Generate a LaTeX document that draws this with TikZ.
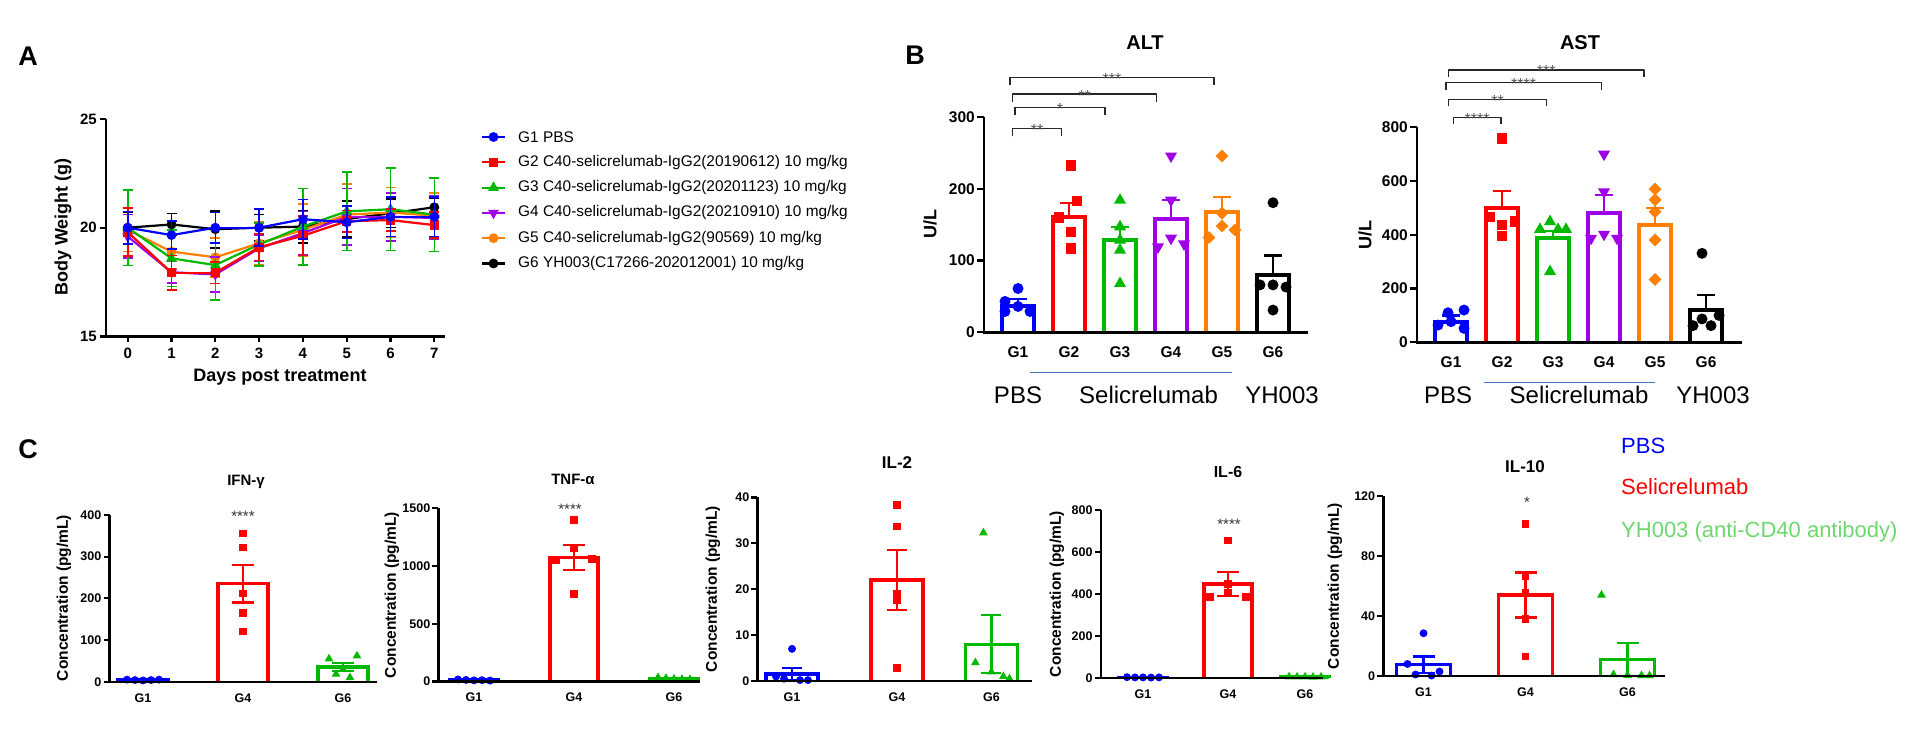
\documentclass[tikz,border=0pt]{standalone}
\usepackage{fontspec}
\setmainfont{Liberation Sans}
\usetikzlibrary{shapes.geometric}
\definecolor{gblue}{RGB}{0,0,255}
\definecolor{gred}{RGB}{255,0,0}
\definecolor{ggreen}{RGB}{0,185,0}
\definecolor{gpurple}{RGB}{160,0,230}
\definecolor{gorange}{RGB}{255,128,0}
\definecolor{lgreen}{RGB}{110,215,110}
\definecolor{lineblue}{RGB}{68,114,196}
\definecolor{stargray}{RGB}{85,85,85}
\begin{document}
\begin{tikzpicture}[>=latex,line join=bevel,x=1bp,y=-1bp,
  axis_line/.style={black,line width=2.4bp,line join=miter},
  ax_tick/.style={black,line width=2.2bp},
  bar_b/.style={draw=#1,line width=4bp,line join=miter},
  bar_c/.style={draw=#1,line width=3.4bp,line join=miter},
  err_line/.style={draw=#1,line width=2.2bp},
  brk/.style={black!85,line width=1.4bp},
  grp_line/.style={lineblue,line width=1.3bp},
  mk_circ/.style={circle,fill=#1,draw=none,inner sep=0pt,minimum size=11bp},
  mk_sq/.style={rectangle,fill=#1,draw=none,inner sep=0pt,minimum size=10.5bp},
  mk_up/.style={regular polygon,regular polygon sides=3,fill=#1,draw=none,inner sep=0pt,minimum size=14bp},
  mk_dn/.style={mk_up=#1,shape border rotate=180},
  mk_dia/.style={diamond,fill=#1,draw=none,inner sep=0pt,minimum size=13bp},
  lab_panel/.style={font=\bfseries\fontsize{27bp}{30bp}\selectfont,inner sep=0pt},
  lab_ax/.style={font=\bfseries\fontsize{18bp}{21bp}\selectfont,inner sep=0pt},
  tick_a/.style={font=\bfseries\fontsize{15bp}{18bp}\selectfont,inner sep=0pt},
  leg_a/.style={font=\fontsize{15.4bp}{18bp}\selectfont,anchor=west,inner sep=0pt},
  title_b/.style={font=\bfseries\fontsize{20bp}{24bp}\selectfont,inner sep=0pt},
  tick_b/.style={font=\bfseries\fontsize{15.5bp}{18bp}\selectfont,inner sep=0pt},
  grp_b/.style={font=\fontsize{24bp}{28bp}\selectfont,inner sep=0pt},
  star_b/.style={font=\fontsize{16bp}{18bp}\selectfont,text=stargray,inner sep=0pt,anchor=base},
  star_c/.style={font=\fontsize{15bp}{18bp}\selectfont,text=black!80,inner sep=0pt,anchor=base},
  title_c/.style={font=\bfseries\fontsize{#1}{#1}\selectfont,inner sep=0pt},
  tick_c/.style={font=\bfseries\fontsize{12.5bp}{15bp}\selectfont,inner sep=0pt},
  ylab_c/.style={font=\bfseries\fontsize{15.5bp}{18bp}\selectfont,inner sep=0pt,rotate=90},
  leg_c/.style={font=\fontsize{22bp}{26bp}\selectfont,anchor=west,inner sep=0pt},
]
\useasboundingbox (0,0) rectangle (1914,740);
\fill[white] (0,0) rectangle (1914,740);
%%
%% A: body weight
\node[lab_panel] (lab_a) at (28,56) {A};
\node[lab_ax,rotate=90] (a_ylab) at (63,227) {Body Weight (g)};
\node[lab_ax] (a_xlab) at (280,377) {Days post treatment};
\begin{scope}[shift={(127.7bp,-662.5bp)},x=43.8bp,y=21.74bp]
\foreach \g/\cc/\m/\pts in {
  6/black/mk_circ/{20.0/0.72,20.15/0.5,19.93/0.85,20.0/0.6,20.05/0.75,20.4/0.84,20.66/0.65,20.94/0.4},
  5/gorange/mk_circ/{19.9/1.0,18.9/0.8,18.64/0.9,19.28/1.0,19.9/1.2,20.6/1.4,20.7/1.15,20.55/1.05},
  4/gpurple/mk_dn/{19.6/1.0,17.95/0.5,17.85/0.8,19.05/0.6,19.75/1.0,20.5/1.3,20.5/1.1,20.45/1.0},
  3/ggreen/mk_up/{20.0/1.73,18.59/1.3,18.28/1.6,19.23/1.0,20.05/1.76,20.75/1.8,20.85/1.9,20.6/1.7},
  2/gred/mk_sq/{19.8/1.1,17.93/0.8,17.93/0.5,19.1/0.6,19.63/0.9,20.3/0.5,20.35/0.5,20.12/0.6},
  1/gblue/mk_circ/{20.0/0.75,19.66/0.65,20.0/0.7,20.0/0.85,20.39/0.9,20.25/0.75,20.5/0.9,20.5/0.9}}
{
  \foreach \w/\e [count=\dd from 0,remember=\w as \pw (initially 0)] in \pts {
    \draw[err_line=\cc,line width=1.6bp] (\dd,\w-\e) -- (\dd,\w+\e)
      (\dd,\w-\e) ++(-5bp,0) -- ++(10bp,0)
      (\dd,\w+\e) ++(-5bp,0) -- ++(10bp,0);
    \ifnum\dd>0 \draw[\cc,line width=2.2bp] (\dd-1,\pw) -- (\dd,\w);\fi
  }
  \foreach \w/\e [count=\dd from 0] in \pts
    \node[\m=\cc,scale=0.9] (a_g\g_d\dd) at (\dd,\w) {};
}
\end{scope}
\draw[axis_line] (105.7,119) -- (105.7,336.4) -- (445,336.4);
\foreach \val/\yy in {25/119,20/227.7,15/336.4} {
  \draw[ax_tick] (99.7,\yy) -- (105.7,\yy);
  \node[tick_a,anchor=east] (a_y\val) at (97,\yy) {\val};
}
\foreach \dd in {0,...,7} {
  \draw[ax_tick] (127.7+43.8*\dd,336.4) -- ++(0,6);
  \node[tick_a] (a_x\dd) at (127.7+43.8*\dd,353) {\dd};
}
% legend
\foreach \g/\cc/\m/\txt [count=\kk from 0] in {
  1/gblue/mk_circ/{G1 PBS},
  2/gred/mk_sq/{G2 C40-selicrelumab-IgG2(20190612) 10 mg/kg},
  3/ggreen/mk_up/{G3 C40-selicrelumab-IgG2(20201123) 10 mg/kg},
  4/gpurple/mk_dn/{G4 C40-selicrelumab-IgG2(20210910) 10 mg/kg},
  5/gorange/mk_circ/{G5 C40-selicrelumab-IgG2(90569) 10 mg/kg},
  6/black/mk_circ/{G6 YH003(C17266-202012001) 10 mg/kg}}
{
  \draw[\cc,line width=2.2bp] (482,137+25.3*\kk) -- (505,137+25.3*\kk);
  \node[\m=\cc,scale=0.9] (leg_m\g) at (493.5,137+25.3*\kk) {};
  \node[leg_a] (leg_t\g) at (518,137+25.3*\kk) {\txt};
}
%%
%% B: ALT
\node[lab_panel] (lab_b) at (915,55) {B};
\node[title_b] (alt_title) at (1145,43) {ALT};
\node[lab_ax,rotate=90] (alt_ylab) at (930,224) {U/L};
\begin{scope}[shift={(984bp,-332.3bp)},x=1bp,y=0.718bp]
\foreach \i/\cc/\m/\mn/\tp/\pts in {
  1/gblue/mk_circ/37/46/{61/0,43/-13,36/0,29/-13,29/12},
  2/gred/mk_sq/161/180/{232/2,183/8,160/-10,140/2,117/2},
  3/ggreen/mk_up/128.5/147/{184/0,147/0,128.5/0,114.6/0,68/0},
  4/gpurple/mk_dn/158/184/{245.5/0,184/0,131/0,119/-13,123/13},
  5/gorange/mk_dia/167/188/{245.5/0,166/0,148/0,142.5/13,132/-13},
  6/black/mk_circ/80/107/{180.5/0,66/-13,66/0,63/13,31/0}}
{
  \pgfmathsetmacro\bx{34+51*(\i-1)}
  \draw[bar_b=\cc] (\bx-16,0) |- (\bx+16,\mn) -- (\bx+16,0);
  \draw[err_line=\cc] (\bx,\mn) -- (\bx,\tp) ++(-9bp,0) -- ++(18bp,0);
  \foreach \val/\off [count=\kk] in \pts
    \node[\m=\cc] (alt_g\i_p\kk) at (\bx+\off,\val) {};
  \node[tick_b] (alt_x\i) at ([yshift=-20bp]\bx,0) {G\i};
}
\draw[axis_line] (0,300) -- (0,0) -- (324,0);
\foreach \val in {0,100,200,300} {
  \draw[ax_tick] (0,\val) -- ++(-7bp,0);
  \node[tick_b,anchor=east] (alt_y\val) at ([xshift=-9bp]0,\val) {\val};
}
\end{scope}
\foreach \lx/\rx/\yy/\s [count=\kk] in {1012.7/1061.7/128.3/{**},1015/1105/107.3/{*},1012.7/1156.7/94/{**},1010/1214/77.3/{***}} {
  \draw[brk] (\lx,\yy+8) |- (\rx,\yy) -- (\rx,\yy+8);
  \node[star_b] (alt_s\kk) at ({(\lx+\rx)/2},\yy+7) {\s};
}
\draw[grp_line] (1030,372.7) -- (1232,372.7);
\node[grp_b] (alt_pbs) at (1018,395) {PBS};
\node[grp_b] (alt_seli) at (1148.5,395) {Selicrelumab};
\node[grp_b] (alt_yh) at (1282,395) {YH003};
%%
%% B: AST
\node[title_b] (ast_title) at (1580,43) {AST};
\node[lab_ax,rotate=90] (ast_ylab) at (1365,235) {U/L};
\begin{scope}[shift={(1417bp,-342.3bp)},x=1bp,y=0.26875bp]
\foreach \i/\cc/\m/\mn/\tp/\pts in {
  1/gblue/mk_circ/77/100/{120/13,110/-3,77/0,64/-13,52/13},
  2/gred/mk_sq/499/564/{759/0,467/-12,449/13,437/0,396/0},
  3/ggreen/mk_up/387/415/{449/-3,420/-13,420/5,420/13,263/-3},
  4/gpurple/mk_dn/480/548/{700/0,560/0,402/0,387/-13,387/13},
  5/gorange/mk_dia/436.5/499/{570/0,530/0,486/0,381/0,234/0},
  6/black/mk_circ/120/176/{331/-4,100/13,87/-4,62/-13,62/5}}
{
  \pgfmathsetmacro\bx{34+51*(\i-1)}
  \draw[bar_b=\cc] (\bx-16,0) |- (\bx+16,\mn) -- (\bx+16,0);
  \draw[err_line=\cc] (\bx,\mn) -- (\bx,\tp) ++(-9bp,0) -- ++(18bp,0);
  \foreach \val/\off [count=\kk] in \pts
    \node[\m=\cc] (ast_g\i_p\kk) at (\bx+\off,\val) {};
  \node[tick_b] (ast_x\i) at ([yshift=-20bp]\bx,0) {G\i};
}
\draw[axis_line] (0,800) -- (0,0) -- (325,0);
\foreach \val in {0,200,400,600,800} {
  \draw[ax_tick] (0,\val) -- ++(-7bp,0);
  \node[tick_b,anchor=east] (ast_y\val) at ([xshift=-9bp]0,\val) {\val};
}
\end{scope}
\foreach \lx/\rx/\yy/\s [count=\kk] in {1453.3/1501/117.3/{****},1448.3/1546.7/99.3/{**},1446/1601.3/82.7/{****},1448.3/1644/70/{***}} {
  \draw[brk] (\lx,\yy+7) |- (\rx,\yy) -- (\rx,\yy+7);
  \node[star_b] (ast_s\kk) at ({(\lx+\rx)/2},\yy+7) {\s};
}
\draw[grp_line] (1484,382.3) -- (1655,382.3);
\node[grp_b] (ast_pbs) at (1448,395) {PBS};
\node[grp_b] (ast_seli) at (1579,395) {Selicrelumab};
\node[grp_b] (ast_yh) at (1713,395) {YH003};
%%
%% C: cytokines
\node[lab_panel] (lab_c) at (28,449) {C};
% IFN-g
\node[title_c=15bp] (ifn_title) at (246,482) {IFN-γ};
\node[star_c] (ifn_star) at (243,521) {****};
\node[ylab_c] (ifn_ylab) at (64,598) {Concentration (pg/mL)};
\begin{scope}[shift={(109.5bp,-681.7bp)},x=1bp,y=0.4167bp]
\foreach \i/\bx/\cc/\m/\mn/\se/\pts in {
  1/33.5/gblue/mk_circ/4/1/{5/-16,4/-8,3/0,4/8,5/16},
  4/133.5/gred/mk_sq/235/45/{356/0,322/0,212/0,165/0,120/0},
  6/233.5/ggreen/mk_up/35/10/{62/14,55/-14,30/0,18/-7,10/7}}
{
  \draw[bar_c=\cc] (\bx-25,0) |- (\bx+25,\mn) -- (\bx+25,0);
  \draw[err_line=\cc] (\bx,\mn-\se) -- (\bx,\mn+\se)
    (\bx,\mn-\se) ++(-11bp,0) -- ++(22bp,0)
    (\bx,\mn+\se) ++(-11bp,0) -- ++(22bp,0);
  \foreach \val/\off [count=\kk] in \pts
    \node[\m=\cc,scale=0.72] (ifn_g\i_p\kk) at (\bx+\off,\val) {};
  \node[tick_c] (ifn_x\i) at ([yshift=-16bp]\bx,0) {G\i};
}
\draw[axis_line] (0,400) -- (0,0) -- (267,0);
\foreach \val in {0,100,...,400} {
  \draw[ax_tick] (0,\val) -- ++(-6bp,0);
  \node[tick_c,anchor=east] (ifn_y\val) at ([xshift=-8bp]0,\val) {\val};
}
\end{scope}
% TNF-a
\node[title_c=15bp] (tnf_title) at (573,479) {TNF-α};
\node[star_c] (tnf_star) at (570,514) {****};
\node[ylab_c] (tnf_ylab) at (392,595) {Concentration (pg/mL)};
\begin{scope}[shift={(438.4bp,-681.5bp)},x=1bp,y=0.1155bp]
\foreach \i/\bx/\cc/\m/\mn/\se/\pts in {
  1/35.6/gblue/mk_circ/12/3/{18/-16,14/-8,10/0,12/8,8/16},
  4/135.6/gred/mk_sq/1075/110/{1400/0,1155/0,1060/18,1048/-18,760/0},
  6/235.6/ggreen/mk_up/25/5/{35/-16,28/-8,22/0,20/8,18/16}}
{
  \draw[bar_c=\cc] (\bx-24,0) |- (\bx+24,\mn) -- (\bx+24,0);
  \draw[err_line=\cc] (\bx,\mn-\se) -- (\bx,\mn+\se)
    (\bx,\mn-\se) ++(-11bp,0) -- ++(22bp,0)
    (\bx,\mn+\se) ++(-11bp,0) -- ++(22bp,0);
  \foreach \val/\off [count=\kk] in \pts
    \node[\m=\cc,scale=0.72] (tnf_g\i_p\kk) at (\bx+\off,\val) {};
  \node[tick_c] (tnf_x\i) at ([yshift=-16bp]\bx,0) {G\i};
}
\draw[axis_line] (0,1500) -- (0,0) -- (262,0);
\foreach \val in {0,500,1000,1500} {
  \draw[ax_tick] (0,\val) -- ++(-6bp,0);
  \node[tick_c,anchor=east] (tnf_y\val) at ([xshift=-8bp]0,\val) {\val};
}
\end{scope}
% IL-2
\node[title_c=17bp] (il2_title) at (897,463) {IL-2};
\node[ylab_c] (il2_ylab) at (713,589) {Concentration (pg/mL)};
\begin{scope}[shift={(757.4bp,-681bp)},x=1bp,y=4.59bp]
\foreach \i/\bx/\cc/\m/\mn/\se/\pts in {
  1/34.6/gblue/mk_circ/1.5/1.3/{7/0,1/-16,0.5/-8,0.2/8,0.2/16},
  4/139.6/gred/mk_sq/22/6.5/{38.3/0,33.7/0,19.1/0,17.5/0,2.8/0},
  6/234/ggreen/mk_up/8/6.3/{32.3/-8,4/-16,2/0,1/12,0.5/18}}
{
  \draw[bar_c=\cc] (\bx-26,0) |- (\bx+26,\mn) -- (\bx+26,0);
  \draw[err_line=\cc] (\bx,\mn-\se) -- (\bx,\mn+\se)
    (\bx,\mn-\se) ++(-10bp,0) -- ++(20bp,0)
    (\bx,\mn+\se) ++(-10bp,0) -- ++(20bp,0);
  \foreach \val/\off [count=\kk] in \pts
    \node[\m=\cc,scale=0.72] (il2_g\i_p\kk) at (\bx+\off,\val) {};
  \node[tick_c] (il2_x\i) at ([yshift=-16bp]\bx,0) {G\i};
}
\draw[axis_line] (0,40) -- (0,0) -- (275,0);
\foreach \val in {0,10,20,30,40} {
  \draw[ax_tick] (0,\val) -- ++(-6bp,0);
  \node[tick_c,anchor=east] (il2_y\val) at ([xshift=-8bp]0,\val) {\val};
}
\end{scope}
% IL-6
\node[title_c=16bp] (il6_title) at (1228,472) {IL-6};
\node[star_c] (il6_star) at (1229,529) {****};
\node[ylab_c] (il6_ylab) at (1057,594) {Concentration (pg/mL)};
\begin{scope}[shift={(1100.7bp,-678bp)},x=1bp,y=0.21bp]
\foreach \i/\bx/\cc/\m/\mn/\se/\pts in {
  1/42.3/gblue/mk_circ/3/1/{4/-16,3/-8,3/0,2/8,3/16},
  4/127.3/gred/mk_sq/448/57/{654/0,448/0,408/0,387/-18,387/18},
  6/204.3/ggreen/mk_up/5/1/{6/-16,5/-8,5/0,4/8,5/16}}
{
  \draw[bar_c=\cc] (\bx-24,0) |- (\bx+24,\mn) -- (\bx+24,0);
  \draw[err_line=\cc] (\bx,\mn-\se) -- (\bx,\mn+\se)
    (\bx,\mn-\se) ++(-11bp,0) -- ++(22bp,0)
    (\bx,\mn+\se) ++(-11bp,0) -- ++(22bp,0);
  \foreach \val/\off [count=\kk] in \pts
    \node[\m=\cc,scale=0.72] (il6_g\i_p\kk) at (\bx+\off,\val) {};
  \node[tick_c] (il6_x\i) at ([yshift=-16bp]\bx,0) {G\i};
}
\draw[axis_line] (0,800) -- (0,0) -- (222,0);
\foreach \val in {0,200,400,600,800} {
  \draw[ax_tick] (0,\val) -- ++(-6bp,0);
  \node[tick_c,anchor=east] (il6_y\val) at ([xshift=-8bp]0,\val) {\val};
}
\end{scope}
% IL-10
\node[title_c=17bp] (il10_title) at (1525,467) {IL-10};
\node[star_c] (il10_star) at (1527,507) {*};
\node[ylab_c] (il10_ylab) at (1335,586) {Concentration (pg/mL)};
\begin{scope}[shift={(1383.3bp,-676bp)},x=1bp,y=1.5bp]
\foreach \i/\bx/\cc/\m/\mn/\se/\pts in {
  1/40.2/gblue/mk_circ/7.5/5.5/{28.5/0,8/-16,3/16,1/-8,0.3/8},
  4/142.2/gred/mk_sq/54/15/{101.3/0,66.2/0,55.6/0,38/0,13/0},
  6/244.2/ggreen/mk_up/11/11/{54/-26,1/-14,0.5/0,0.3/14,0.3/22}}
{
  \draw[bar_c=\cc] (\bx-27,0) |- (\bx+27,\mn) -- (\bx+27,0);
  \draw[err_line=\cc] (\bx,\mn-\se) -- (\bx,\mn+\se)
    (\bx,\mn-\se) ++(-11bp,0) -- ++(22bp,0)
    (\bx,\mn+\se) ++(-11bp,0) -- ++(22bp,0);
  \foreach \val/\off [count=\kk] in \pts
    \node[\m=\cc,scale=0.72] (il10_g\i_p\kk) at (\bx+\off,\val) {};
  \node[tick_c] (il10_x\i) at ([yshift=-16bp]\bx,0) {G\i};
}
\draw[axis_line] (0,120) -- (0,0) -- (282,0);
\foreach \val in {0,40,80,120} {
  \draw[ax_tick] (0,\val) -- ++(-6bp,0);
  \node[tick_c,anchor=east] (il10_y\val) at ([xshift=-8bp]0,\val) {\val};
}
\end{scope}
% legend
\node[leg_c,text=gblue] (leg_pbs) at (1621,446) {PBS};
\node[leg_c,text=gred] (leg_seli) at (1621,487) {Selicrelumab};
\node[leg_c,text=lgreen] (leg_yh) at (1621,532) {YH003 (anti-CD40 antibody)};
%
\end{tikzpicture}
\end{document}
